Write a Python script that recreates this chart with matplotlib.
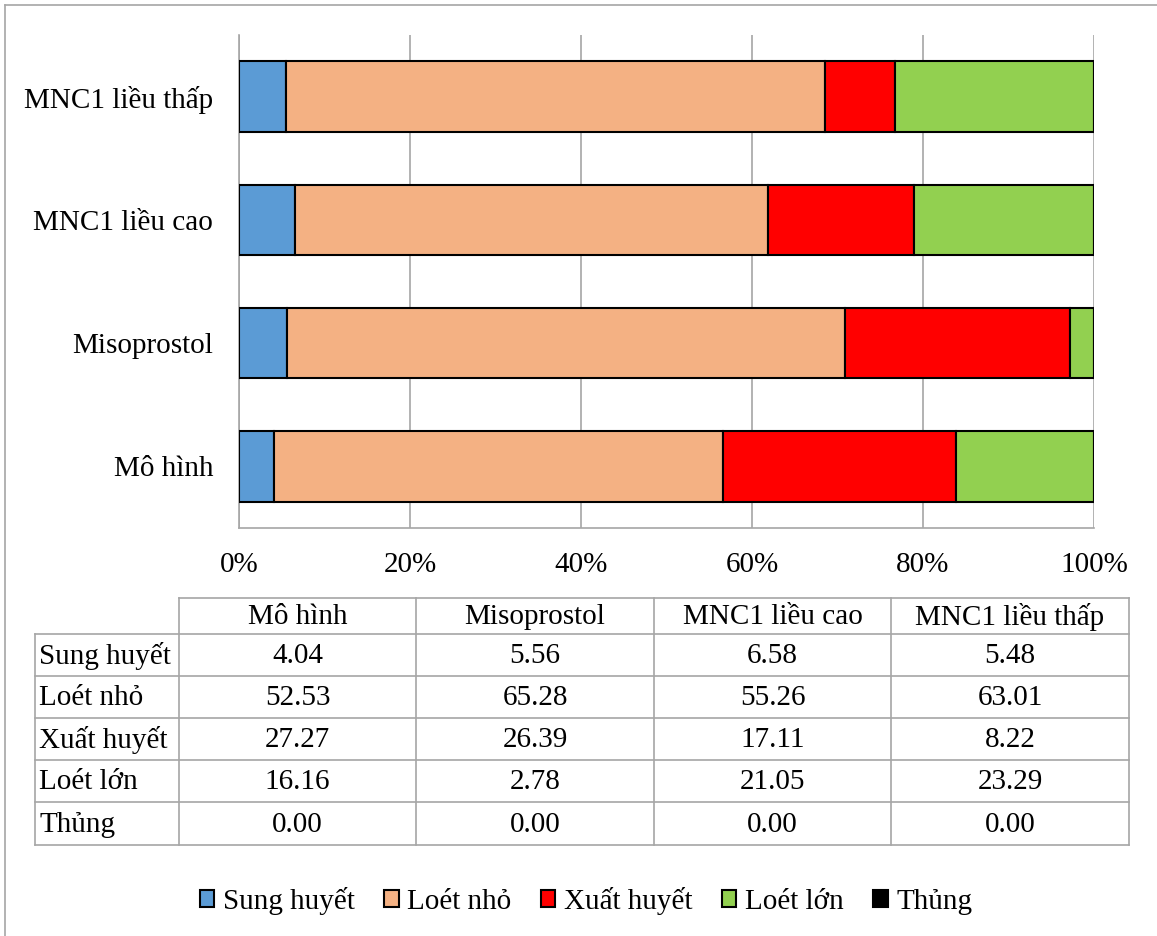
import matplotlib
matplotlib.use("Agg")
import matplotlib.pyplot as plt
import numpy as np

plt.rcParams['font.family'] = ['Liberation Serif', 'DejaVu Serif']

groups = ["Mô hình", "Misoprostol", "MNC1 liều cao", "MNC1 liều thấp"]
series = ["Sung huyết", "Loét nhỏ", "Xuất huyết", "Loét lớn", "Thủng"]
sung_huyet = [4.04, 5.56, 6.58, 5.48]
loet_nho = [52.53, 65.28, 55.26, 63.01]
xuat_huyet = [27.27, 26.39, 17.11, 8.22]
loet_lon = [16.16, 2.78, 21.05, 23.29]
thung = [0.00, 0.00, 0.00, 0.00]
colors = ["#5B9BD5", "#F4B183", "#FF0000", "#92D050", "#000000"]
tick_vals = [0, 20, 40, 60, 80, 100]

values = [sung_huyet, loet_nho, xuat_huyet, loet_lon, thung]
FS = 21

W, H = 1157, 936
fig = plt.figure(figsize=(W / 100, H / 100), dpi=100)

# main stacked bar area
ax = fig.add_axes([239 / W, 1 - 528 / H, (1094 - 239) / W, (528 - 35) / H])
y = np.arange(len(groups))
left = np.zeros(len(groups))
handles = []
for name, vals, col in zip(series, values, colors):
    vals = np.array(vals)
    b = ax.barh(y, vals, left=left, height=0.57, color=col,
                edgecolor="black", linewidth=1.5, label=name, zorder=3)
    handles.append(b)
    left += vals

ax.set_xlim(0, 100)
ax.set_ylim(-0.5, len(groups) - 0.5)
ax.set_xticks(tick_vals)
ax.set_xticklabels([f"{v}%" for v in tick_vals], fontsize=FS)
ax.set_yticks(y)
ax.set_yticklabels(groups, fontsize=FS)
ax.tick_params(length=0)
ax.tick_params(axis="x", pad=17)
ax.tick_params(axis="y", pad=18.5)
ax.grid(axis="x", color="#A6A6A6", linewidth=1.2, zorder=0)
for side in ["top", "right"]:
    ax.spines[side].set_visible(False)
for side in ["left", "bottom"]:
    ax.spines[side].set_color("#A6A6A6")
    ax.spines[side].set_linewidth(1.2)

# overlay in pixel coordinates for the data table and the frame
ov = fig.add_axes([0, 0, 1, 1])
ov.set_xlim(0, W)
ov.set_ylim(H, 0)
ov.axis("off")
ov.patch.set_alpha(0)

line_kw = dict(color="#A6A6A6", linewidth=1.2)
ov.plot([5, 5], [5, H], **line_kw)
ov.plot([5, W], [5, 5], **line_kw)

col_edges = [35, 179, 416, 654, 891, 1129]
row_edges = [598, 634, 676, 718, 760, 802, 845]

# horizontal lines
ov.plot([col_edges[1], col_edges[-1]], [row_edges[0], row_edges[0]], **line_kw)
for ry in row_edges[1:]:
    ov.plot([col_edges[0], col_edges[-1]], [ry, ry], **line_kw)
# vertical lines
ov.plot([col_edges[0], col_edges[0]], [row_edges[1], row_edges[-1]], **line_kw)
for cx in col_edges[1:]:
    ov.plot([cx, cx], [row_edges[0], row_edges[-1]], **line_kw)

for j, g in enumerate(groups):
    cx = (col_edges[j + 1] + col_edges[j + 2]) / 2
    ov.text(cx, (row_edges[0] + row_edges[1]) / 2 + 1, g, ha="center",
            va="center", fontsize=FS)
for i, (name, vals) in enumerate(zip(series, values)):
    cy = (row_edges[i + 1] + row_edges[i + 2]) / 2 + 1
    ov.text(col_edges[0] + 4, cy, name, ha="left", va="center", fontsize=FS)
    for j, v in enumerate(vals):
        cx = (col_edges[j + 1] + col_edges[j + 2]) / 2
        ov.text(cx, cy, f"{v:.2f}", ha="center", va="center", fontsize=FS)

fig.legend(handles=handles, labels=series, loc="center",
           bbox_to_anchor=(586 / W, 1 - 901 / H), ncol=5, frameon=False,
           fontsize=FS, handlelength=0.5, handleheight=0.5,
           handletextpad=0.3, columnspacing=1.0)

fig.savefig("out.png", dpi=100)
